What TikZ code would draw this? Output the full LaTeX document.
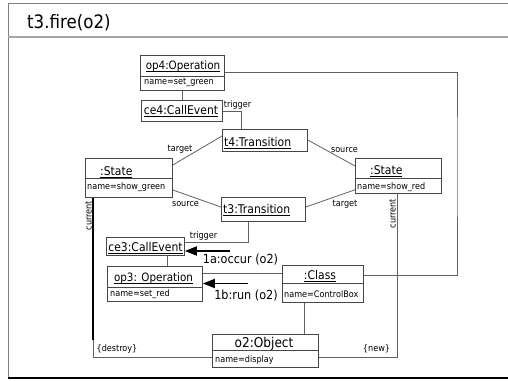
\documentclass[tikz,border=0pt]{standalone}
\usepackage{fontspec}
\setmainfont{DejaVu Sans}[FakeStretch=0.9]
\usetikzlibrary{arrows.meta}
% underline set close to the baseline
\newcommand\ulbox[1]{\setbox0\hbox{#1}\rlap{\rule[-2.2pt]{\wd0}{0.7pt}}\box0}
\begin{document}
\begin{tikzpicture}[x=1pt,y=-1pt,
  box/.style={draw=black!72, line width=0.8pt, inner sep=0pt, anchor=north west},
  divline/.style={draw=black!72, line width=0.8pt},
  conn/.style={draw=black!62, line width=0.8pt},
  ttl/.style={inner sep=0pt, anchor=base, font=\fontsize{12}{14}\selectfont},
  nm/.style={inner sep=0pt, anchor=base west, font=\fontsize{9}{11}\selectfont},
  lbl/.style={inner sep=0pt, anchor=base, font=\fontsize{9}{11}\selectfont},
  msg/.style={inner sep=0pt, anchor=base, font=\fontsize{12.5}{14}\selectfont},
  msgarrow/.style={line width=1.8pt, -{Triangle[length=12pt,width=9pt]}},
]
\useasboundingbox (0,0) rectangle (508,380);

% frame and title bar
\draw[draw=black!50, line width=0.8pt] (512,3) -- (8,3) -- (8,378);
\draw[draw=black!35, line width=1.4pt] (8,37) -- (512,37);
\draw[draw=black, line width=1.4pt] (8,378) -- (512,378);
\node[inner sep=0pt, anchor=base west, font=\fontsize{18.5}{20}\selectfont] (title) at (27,28) {t3.fire(o2)};

% object boxes
\node[box, minimum width=84, minimum height=35] (op4) at (140,55) {};
\draw[divline] ([yshift=-21]op4.north west) -- ([yshift=-21]op4.north east);
\node[ttl, font=\fontsize{11.5}{14}\selectfont] (op4-t) at (183,69) {\ulbox{op4:Operation}};
\node[nm] (op4-a) at (144,84) {name=set\_green};

\node[box, minimum width=81, minimum height=21] (ce4) at (141,100) {};
\node[ttl] (ce4-t) at (181,114) {\ulbox{ce4:CallEvent}};

\node[box, minimum width=85, minimum height=22] (t4) at (222,129) {};
\node[ttl, anchor=base west] (t4-t) at (224,146) {\ulbox{t4:Transition}};

\node[box, minimum width=87, minimum height=39] (stL) at (85,158) {};
\draw[divline] ([yshift=-20]stL.north west) -- ([yshift=-20]stL.north east);
\node[ttl, anchor=base west] (stL-t) at (100,175) {\ulbox{:State}};
\node[nm] (stL-a) at (87,189) {name=show\_green};

\node[box, minimum width=86, minimum height=35] (stR) at (355,158) {};
\draw[divline] ([yshift=-20]stR.north west) -- ([yshift=-20]stR.north east);
\node[ttl, anchor=base west] (stR-t) at (370,174) {\ulbox{:State}};
\node[nm] (stR-a) at (357,189) {name=show\_red};

\node[box, minimum width=84, minimum height=24] (t3) at (221,197) {};
\node[ttl, anchor=base west] (t3-t) at (223,213) {\ulbox{t3:Transition}};

\node[box, minimum width=78, minimum height=18] (ce3) at (106,237) {};
\node[ttl] (ce3-t) at (145.5,251) {\ulbox{ce3:CallEvent}};

\node[box, minimum width=95, minimum height=35] (op3) at (107,266) {};
\draw[divline] ([yshift=-21]op3.north west) -- ([yshift=-21]op3.north east);
\node[ttl, font=\fontsize{11.5}{14}\selectfont] (op3-t) at (153.5,281) {\ulbox{op3: Operation}};
\node[nm] (op3-a) at (110,296) {name=set\_red};

\node[box, minimum width=81, minimum height=37] (cls) at (282,265) {};
\draw[divline] ([yshift=-18]cls.north west) -- ([yshift=-18]cls.north east);
\node[ttl] (cls-t) at (320,279) {\ulbox{:Class}};
\node[nm] (cls-a) at (284,297) {name=ControlBox};

\node[box, minimum width=106, minimum height=33] (o2) at (212,334) {};
\draw[divline] ([yshift=-16]o2.north west) -- ([yshift=-16]o2.north east);
\node[ttl, font=\fontsize{13.5}{15}\selectfont] (o2-t) at (264,347) {o2:Object};
\node[nm] (o2-a) at (215,362) {name=display};

% links
\draw[conn] (op4.south) -- (op4.south |- ce4.north);

\draw[conn] (ce4.east) -| ([xshift=19]t4.north west);
\node[lbl] (trig4) at (237.5,107) {trigger};

\draw[conn] ([yshift=-7]t4.north west) -- ([yshift=-7]stL.north east);
\node[lbl] (tgt4) at (180,151) {target};

\draw[conn] ([yshift=-11]t4.north east) -- ([yshift=-8]stR.north west);
\node[lbl] (src4) at (344.5,152) {source};

\draw[conn] ([yshift=-32]stL.north east) -- ([yshift=-10]t3.north west);
\node[lbl] (src3) at (185.5,206) {source};

\draw[conn] ([yshift=-10]t3.north east) -- ([yshift=4]stR.south west);
\node[lbl] (tgt3) at (345,206) {target};

\draw[conn] ([yshift=-5]ce3.north east) -| ([xshift=27]t3.south west);
\node[lbl] (trig3) at (203.5,238.5) {trigger};

\coordinate (ce3b) at ([xshift=61]ce3.south west);
\draw[conn] (ce3b) -- (ce3b |- op3.north);

\draw[conn] ([yshift=-7]op3.north east) -- ([yshift=-8]cls.north west);

\coordinate (bendR) at (457,160);
\draw[conn] ([yshift=-10]cls.north east) -| (bendR) |- ([yshift=-17]op4.north east);

\coordinate (clsb) at ([xshift=22]cls.south west);
\draw[conn] (clsb) -- (clsb |- o2.north);

% current links with their lifecycle tags
\coordinate (curL) at ([xshift=8]stL.south west);
\coordinate (curLk) at (93,340);
\draw[conn] (curL) |- ([yshift=-23]o2.north west);
\draw[black, line width=1.2pt] (curL) -- (curLk);
\node[lbl, rotate=90] (curL-l) at (91.5,215.5) {current};
\node[lbl] (destroy) at (117,351) {\{destroy\}};

\coordinate (curR) at ([xshift=42]stR.south west);
\draw[conn] (curR) |- ([yshift=-23]o2.north east);
\node[lbl, rotate=90] (curR-l) at (395.5,213.5) {current};
\node[lbl] (new) at (376.5,351) {\{new\}};

% messages
\coordinate (m1) at (230,251);
\draw[msgarrow] (m1) -- (ce3.east |- m1);
\node[msg] (m1-l) at (240.5,263) {1a:occur (o2)};
\coordinate (m2) at (248,283.5);
\draw[msgarrow] (m2) -- (op3.east |- m2);
\node[msg] (m2-l) at (246,299) {1b:run (o2)};
\end{tikzpicture}
\end{document}
